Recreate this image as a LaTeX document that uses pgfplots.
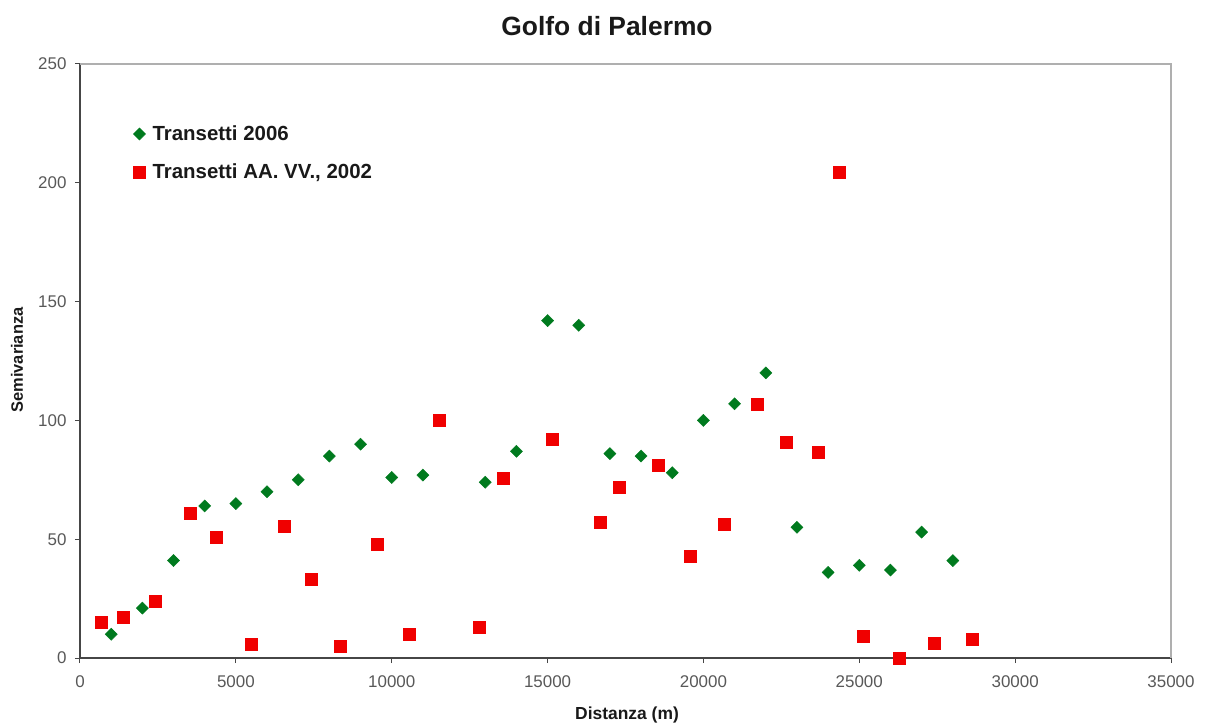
\documentclass[border=0pt]{standalone}
\usepackage{pgfplots}
\pgfplotsset{compat=1.18}
\usepackage{fontspec}
\setmainfont{Liberation Sans}

\definecolor{serieA}{RGB}{0,122,30}
\definecolor{serieB}{RGB}{240,0,0}
\definecolor{assi}{RGB}{70,70,70}
\definecolor{bordo}{RGB}{175,175,175}
\definecolor{testo}{RGB}{25,25,25}

\begin{document}
\begin{tikzpicture}
\begin{axis}[
  scale only axis,
  width=1091bp, height=594bp,
  xmin=0, xmax=35000, ymin=0, ymax=250,
  xtick={0,5000,...,35000},
  ytick={0,50,...,250},
  scaled ticks=false,
  /pgf/number format/set thousands separator={},
  /pgf/number format/assume math mode=true,
  axis lines*=left,
  axis line style={-, color=assi, line width=1.2bp},
  tick align=outside,
  major tick length=5bp,
  tick style={color=assi, line width=1bp},
  ticklabel style={font=\fontsize{17}{20}\selectfont, text=assi!90!white},
  xticklabel style={yshift=-9bp},
  yticklabel style={xshift=-5bp},
  clip=false,
  legend cell align=left,
  legend style={draw=none, fill=none, at={(0.046,0.903)}, anchor=north west,
    font=\bfseries\fontsize{20.5}{24}\selectfont, text=testo, row sep=18bp},
]
\draw[color=bordo, line width=1.8bp] (rel axis cs:0,1) -- (rel axis cs:1,1) -- (rel axis cs:1,0);

% Transetti 2006
\addplot[only marks, mark=square*, mark size=4.3bp, mark options={rotate=45, color=serieA, fill=serieA}]
coordinates {
(1000,10) (2000,21) (3000,41) (4000,64) (5000,65) (6000,70) (7000,75)
(8000,85) (9000,90) (10000,76) (11000,77) (13000,74) (14000,87)
(15000,142) (16000,140) (17000,86) (18000,85) (19000,78) (20000,100)
(21000,107) (22000,120) (23000,55) (24000,36) (25000,39) (26000,37)
(27000,53) (28000,41)
};
\addlegendentry{\hspace{5bp}Transetti 2006}

% Transetti AA. VV., 2002
\addplot[only marks, mark=square*, mark size=6bp, mark options={color=serieB, fill=serieB}]
coordinates {
(670,15) (1380,17) (2400,24) (3520,61) (4360,51) (5490,6) (6540,55.5)
(7410,33) (8340,5) (9530,48) (10550,10) (11510,100) (12800,13)
(13570,75.5) (15140,92) (16680,57) (17310,72) (18540,81) (19570,43)
(20660,56.5) (21720,107) (22670,91) (23680,86.5) (24350,204.5)
(25120,9) (26270,0) (27400,6.3) (28620,7.8)
};
\addlegendentry{\hspace{5bp}Transetti AA. VV., 2002}
\end{axis}

% titolo ed etichette degli assi
\node[font=\bfseries\fontsize{26.5}{30}\selectfont, text=testo] at (527bp,632bp) {Golfo di Palermo};
\node[font=\bfseries\fontsize{17.5}{20}\selectfont, text=testo] at (547bp,-57bp) {Distanza (m)};
\node[font=\bfseries\fontsize{16.5}{20}\selectfont, text=testo, rotate=90] at (-63bp,298bp) {Semivarianza};

\pgfresetboundingbox
\path (-80bp,-69bp) rectangle (1125bp,658bp);
\end{tikzpicture}
\end{document}
